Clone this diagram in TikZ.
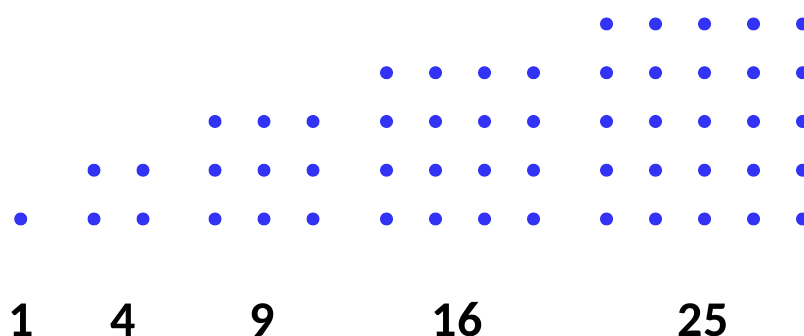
\documentclass[tikz,border=0pt]{standalone}
\usepackage{fontspec}
\setmainfont{Carlito}
\definecolor{dotblue}{RGB}{51,51,245}
\begin{document}
\begin{tikzpicture}[x=1pt, y=-1pt,
    dot/.style={circle, fill=dotblue, inner sep=0pt, minimum size=13pt},
    num/.style={font=\fontsize{50}{50}\selectfont\bfseries, anchor=base, inner sep=0pt}]
    \useasboundingbox (0,0) rectangle (804,336);

    % ===== square arrays of dots =====
    \foreach \n/\xs in {1/20.7, 2/94, 3/215, 4/386.5, 5/606.5}
        \foreach \i in {1,...,\n}
            \foreach \j in {1,...,\n}
                \node[dot] (d\n-\i-\j) at ({\xs+(\i-1)*49}, {219-(\j-1)*48.75}) {};

    % ===== labels =====
    \node[num] (l1) at (21, 337) {1};
    \node[num] (l4) at (123, 337) {4};
    \node[num] (l9) at (262, 337) {9};
    \node[num] (l16) at (457, 337) {16};
    \node[num] (l25) at (703, 337) {25};
\end{tikzpicture}
\end{document}
